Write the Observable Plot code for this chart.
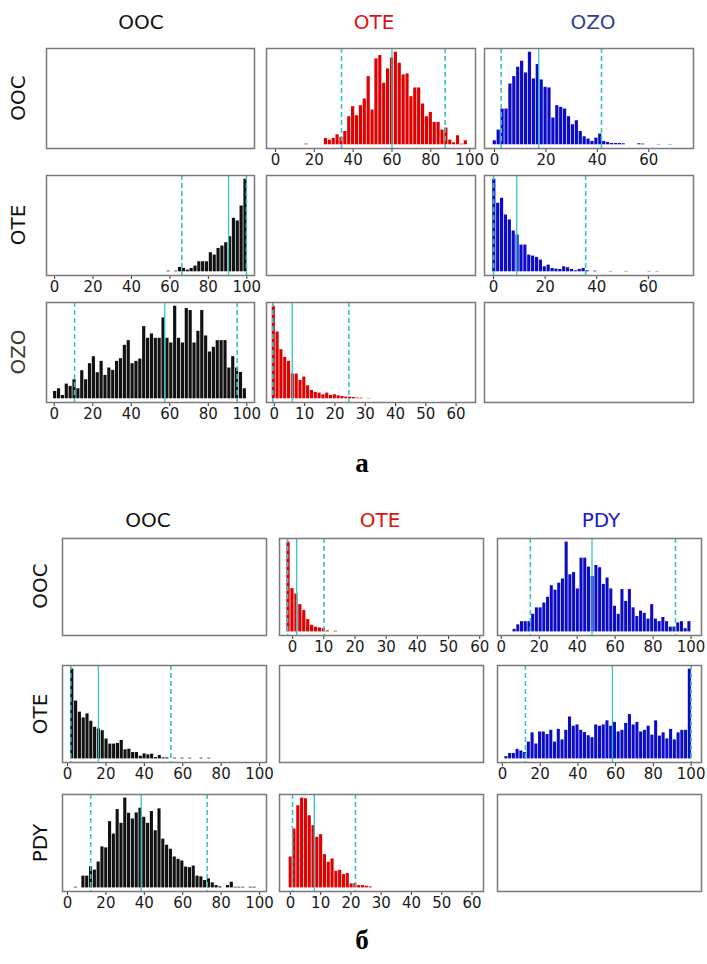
<!DOCTYPE html>
<html><head><meta charset="utf-8">
<script src="https://cdn.jsdelivr.net/npm/d3@7"></script>
<script src="https://cdn.jsdelivr.net/npm/@observablehq/plot@0.6"></script>
<style>
body{margin:0;background:#fff;}
#root{position:relative;width:707px;height:964px;font-family:"DejaVu Sans",sans-serif;overflow:hidden;background:#fff;}
.lbl{position:absolute;white-space:nowrap;font-size:20px;line-height:1;transform:translate(-50%,-50%);}
.rot{transform:translate(-50%,-50%) rotate(-90deg);}
.fig{position:absolute;font-family:"Liberation Serif",serif;font-weight:bold;font-size:27px;line-height:1;transform:translate(-50%,-50%);}
.panel{position:absolute;}
</style></head><body><div id="root"></div><script>
// ---------- data (histogram bin heights, bins start + width, quantile lines) ----------
const colTitlesA = ["OOC", "OTE", "OZO"];
const rowTitlesA = ["OOC", "OTE", "OZO"];
const colTitlesB = ["OOC", "OTE", "PDY"];
const rowTitlesB = ["OOC", "OTE", "PDY"];
const figLabels = ["a", "б"];

const ticks100 = [0, 20, 40, 60, 80, 100];
const ticks60by20 = [0, 20, 40, 60];
const ticks60by10 = [0, 10, 20, 30, 40, 50, 60];

// a: row OOC, col OTE
const aOocOteBins = [16, 2];
const aOocOte = [2,0,0,0,0,19,14,19,30,22,40,84,114,87,117,137,204,104,257,267,184,227,260,277,244,209,212,144,170,170,122,84,97,67,67,44,50,14,6,27,2,12];
const aOocOteLines = [34, 60, 87.4];
// a: row OOC, col OZO
const aOocOzoBins = [0.1, 1.52];
const aOocOzo = [12,44,107,107,182,204,232,250,215,277,197,240,194,172,170,80,117,112,107,84,60,72,40,24,17,10,20,32,10,7,4,4,4,3,0,0,0,3,2,0,0,0,1,0,0,1];
const aOocOzoLines = [2.6, 17.2, 41.6];
// a: row OTE, col OOC
const aOteOocBins = [59.3, 2.0];
const aOteOoc = [2,0,2,13,10,5,10,17,30,30,30,57,50,70,77,87,105,160,152,197,277];
const aOteOocLines = [66.2, 90.5, 99.8];
// a: row OTE, col OZO
const aOteOzoBins = [0.3, 1.505];
const aOteOzo = [277,205,220,170,155,122,110,80,80,50,47,43,35,15,20,10,8,7,15,12,7,3,7,10,3,0,2,0,0,0,1,0,0,0,1,0,0,0,0,0,1,0,1];
const aOteOzoLines = [0, 9, 35.7];
// a: row OZO, col OOC
const aOzoOocBins = [0.5, 2.01];
const aOzoOoc = [22,30,10,44,37,57,30,84,57,105,126,78,112,70,92,85,112,120,160,174,105,112,119,216,181,194,181,181,242,181,167,277,181,167,270,264,167,202,264,188,140,154,174,174,174,92,126,92,79,30];
const aOzoOocLines = [10.6, 57.4, 95];
// a: row OZO, col OTE
const aOzoOteBins = [-0.2, 1.26];
const aOzoOte = [277,200,147,124,112,74,74,55,65,39,25,19,17,12,17,10,12,9,7,5,5,4,2,2,0,1];
const aOzoOteLines = [-0.5, 5.9, 24.6];

// Figure б
const bOocOteBins = [-1.3, 1.26];
const bOocOte = [270,130,114,82,64,37,20,14,12,10,3,0,2];
const bOocOteLines = [-1.6, 1.3, 10.1];
const bOocPdyBins = [7, 1.96];
const bOocPdy = [8,22,32,32,32,55,75,75,90,108,144,130,152,165,280,178,185,134,230,230,202,173,207,200,148,168,134,80,55,132,95,132,75,48,65,58,40,85,40,32,45,32,15,15,28,32,10,32];
const bOocPdyLines = [15.3, 47.8, 91.8];
const bOteOocBins = [2.5, 1.98];
const bOteOoc = [267,172,139,122,134,112,94,89,84,59,44,44,46,55,27,29,19,19,8,15,12,14,4,10,3,3,0,2,0,2,0,2,0,0,2,0,2];
const bOteOocLines = [1.7, 16.1, 53.8];
const bOtePdyBins = [2.1, 1.984];
const bOtePdy = [7,17,17,30,25,20,53,82,47,85,85,77,90,53,93,60,90,132,103,107,90,83,73,67,107,103,107,120,103,115,85,90,112,140,107,115,85,90,103,75,120,72,82,63,93,60,82,90,90,283];
const bOtePdyLines = [12.2, 58.3, 100];
const bPdyOocBins = [4.34, 1.98];
const bPdyOoc = [2,0,35,35,63,53,77,122,119,197,160,233,192,267,222,205,223,237,210,192,227,170,235,145,127,115,92,85,80,62,60,65,35,33,22,27,15,7,3,0,7,17,2,2,2,0,2,2];
const bPdyOocLines = [12.1, 38.4, 72.7];
const bPdyOteBins = [0.1, 1.257];
const bPdyOte = [93,177,247,270,268,217,187,152,160,100,77,87,50,53,40,43,12,13,7,7,5,3];
const bPdyOteLines = [0.7, 7.9, 21.5];

// ---------- styling ----------
const RED = "#e00000", BLUE = "#0c0cc8", BLACK = "#111111", CYAN = "#35c6c6";
const root = document.getElementById("root");
const ML = 14, MR = 14, MT = 2, MB = 28;

function label(text, x, y, color, rot) {
  const d = document.createElement("div");
  d.className = "lbl" + (rot ? " rot" : "");
  d.textContent = text;
  d.style.left = x + "px"; d.style.top = y + "px"; d.style.color = color;
  root.appendChild(d);
}
function figLabel(text, x, y) {
  const d = document.createElement("div");
  d.className = "fig"; d.textContent = text;
  d.style.left = x + "px"; d.style.top = y + "px";
  root.appendChild(d);
}

function panel(x0, y0, w, h, cfg) {
  const marks = [];
  let yDomain = [0, 1], xDomain = [0, 1];
  if (cfg) {
    const [start, bw] = cfg.bins;
    const data = cfg.heights.map((v, i) => ({c: start + i * bw, v})).filter(d => d.v > 0);
    const M = d3.max(cfg.heights);
    yDomain = [-0.04 * M, 1.04 * M];
    xDomain = cfg.domain;
    marks.push(Plot.rectY(data, {x1: d => d.c - bw * 0.41, x2: d => d.c + bw * 0.41, y1: 0, y2: "v", fill: cfg.color}));
    marks.push(Plot.ruleX([cfg.lines[0], cfg.lines[2]], {stroke: CYAN, strokeWidth: 1.6, strokeDasharray: "5,3"}));
    marks.push(Plot.ruleX([cfg.lines[1]], {stroke: CYAN, strokeWidth: 1.3}));
    marks.push(Plot.axisX({ticks: cfg.ticks, tickSize: 4, tickPadding: 2, fontSize: 15, label: null, tickFormat: d => String(d), stroke: "#333"}));
  }
  marks.push(Plot.frame({stroke: "#7a7a7a", strokeWidth: 1.5}));
  const p = Plot.plot({
    width: w + ML + MR, height: h + MT + MB,
    marginLeft: ML, marginRight: MR, marginTop: MT, marginBottom: MB,
    x: {type: "linear", domain: xDomain, axis: null},
    y: {domain: yDomain, axis: null},
    style: {fontFamily: "DejaVu Sans, sans-serif", color: "#1a1a1a", background: "transparent", overflow: "visible"},
    marks
  });
  p.classList.add("panel");
  p.style.left = (x0 - ML) + "px";
  p.style.top = (y0 - MT) + "px";
  root.appendChild(p);
}

// ---------- figure a ----------
const aCols = [[46, 208], [266, 209], [484, 209]];
const aRows = [48, 175, 302];
const aH = 100;
label(colTitlesA[0], 141, 22, "#111");
label(colTitlesA[1], 374, 22, "#e01010");
label(colTitlesA[2], 593, 22, "#2b3f96");
label(rowTitlesA[0], 18, 98, "#111", true);
label(rowTitlesA[1], 18, 225, "#111", true);
label(rowTitlesA[2], 18, 352, "#3a3a2a", true);

panel(aCols[0][0], aRows[0], aCols[0][1], aH, null);
panel(aCols[1][0], aRows[0], aCols[1][1], aH, {bins: aOocOteBins, heights: aOocOte, lines: aOocOteLines, color: RED, domain: [-4.6, 103], ticks: ticks100});
panel(aCols[2][0], aRows[0], aCols[2][1], aH, {bins: aOocOzoBins, heights: aOocOzo, lines: aOocOzoLines, color: BLUE, domain: [-3.9, 77.4], ticks: ticks60by20});
panel(aCols[0][0], aRows[1], aCols[0][1], aH, {bins: aOteOocBins, heights: aOteOoc, lines: aOteOocLines, color: BLACK, domain: [-4.2, 104], ticks: ticks100});
panel(aCols[1][0], aRows[1], aCols[1][1], aH, null);
panel(aCols[2][0], aRows[1], aCols[2][1], aH, {bins: aOteOzoBins, heights: aOteOzo, lines: aOteOzoLines, color: BLUE, domain: [-3.5, 77.5], ticks: ticks60by20});
panel(aCols[0][0], aRows[2], aCols[0][1], aH, {bins: aOzoOocBins, heights: aOzoOoc, lines: aOzoOocLines, color: BLACK, domain: [-4, 104], ticks: ticks100});
panel(aCols[1][0], aRows[2], aCols[1][1], aH, {bins: aOzoOteBins, heights: aOzoOte, lines: aOzoOteLines, color: RED, domain: [-2.6, 66.4], ticks: ticks60by10});
panel(aCols[2][0], aRows[2], aCols[2][1], aH, null);
figLabel(figLabels[0], 362, 463);

// ---------- figure б ----------
const bCols = [[62, 204], [279, 204], [497, 204]];
const bRows = [538, 665, 794];
const bH = 97;
label(colTitlesB[0], 148, 520, "#111");
label(colTitlesB[1], 380, 520, "#e01010");
label(colTitlesB[2], 601, 520, "#1a1ac8");
label(rowTitlesB[0], 40, 586, "#111", true);
label(rowTitlesB[1], 40, 714, "#111", true);
label(rowTitlesB[2], 40, 843, "#111", true);

panel(bCols[0][0], bRows[0], bCols[0][1], bH, null);
panel(bCols[1][0], bRows[0], bCols[1][1], bH, {bins: bOocOteBins, heights: bOocOte, lines: bOocOteLines, color: RED, domain: [-4.2, 61.2], ticks: ticks60by10});
panel(bCols[2][0], bRows[0], bCols[2][1], bH, {bins: bOocPdyBins, heights: bOocPdy, lines: bOocPdyLines, color: BLUE, domain: [-2, 105.5], ticks: ticks100});
panel(bCols[0][0], bRows[1], bCols[0][1], bH, {bins: bOteOocBins, heights: bOteOoc, lines: bOteOocLines, color: BLACK, domain: [-2.6, 103.6], ticks: ticks100});
panel(bCols[1][0], bRows[1], bCols[1][1], bH, null);
panel(bCols[2][0], bRows[1], bCols[2][1], bH, {bins: bOtePdyBins, heights: bOtePdy, lines: bOtePdyLines, color: BLUE, domain: [-2.6, 105.5], ticks: ticks100});
panel(bCols[0][0], bRows[2], bCols[0][1], bH, {bins: bPdyOocBins, heights: bPdyOoc, lines: bPdyOocLines, color: BLACK, domain: [-2.6, 103.6], ticks: ticks100});
panel(bCols[1][0], bRows[2], bCols[1][1], bH, {bins: bPdyOteBins, heights: bPdyOte, lines: bPdyOteLines, color: RED, domain: [-3.6, 63.8], ticks: ticks60by10});
panel(bCols[2][0], bRows[2], bCols[2][1], bH, null);
figLabel(figLabels[1], 362, 940);
</script></body></html>
